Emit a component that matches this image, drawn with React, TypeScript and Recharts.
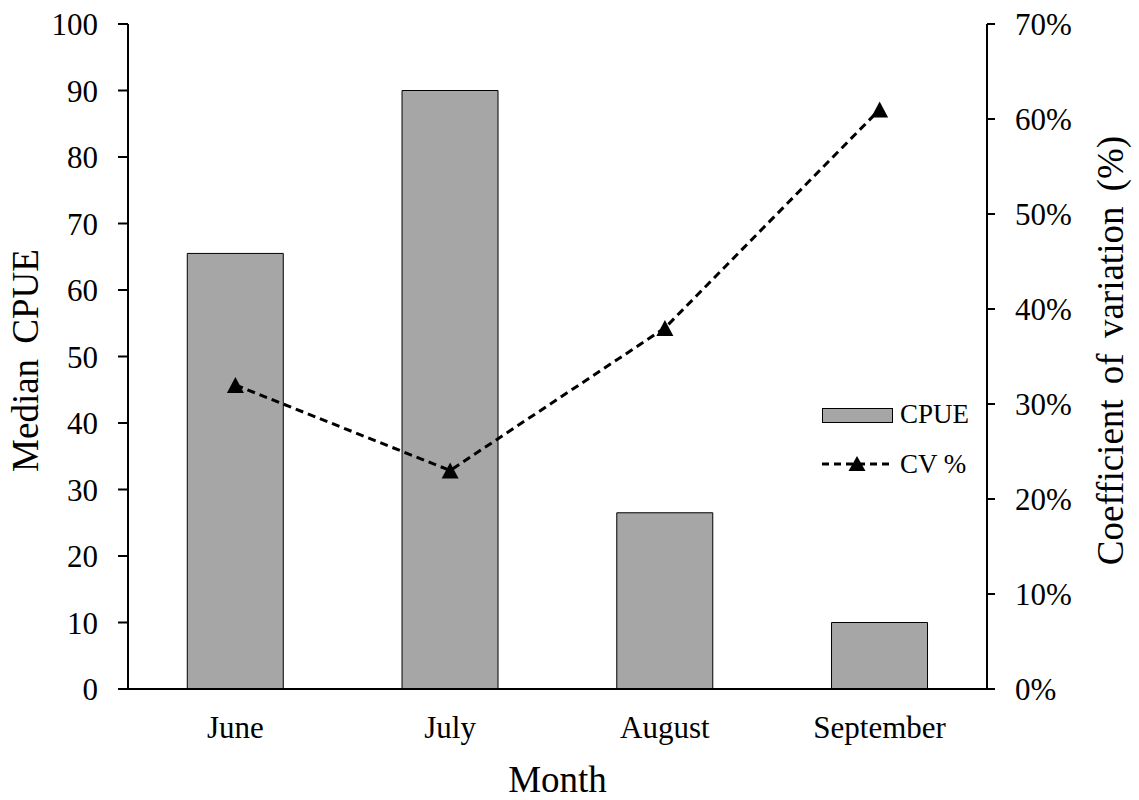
import {
  Bar,
  ComposedChart,
  Legend,
  Line,
  XAxis,
  YAxis,
} from "recharts";

const months = ["June", "July", "August", "September"];
const cpue = [65.5, 90, 26.5, 10];
const cvPct = [32, 23, 38, 61];
const cpueTicks = [0, 10, 20, 30, 40, 50, 60, 70, 80, 90, 100];
const cvTicks = [0, 10, 20, 30, 40, 50, 60, 70];

const data = months.map((m, i) => ({ month: m, cpue: cpue[i], cv: cvPct[i] }));

const FONT = '"Liberation Serif", "Times New Roman", serif';
const INK = "#000";

function Triangle(props: any) {
  const { cx, cy, index } = props;
  if (cx == null || cy == null) return null;
  return (
    <polygon
      key={`tri-${index}`}
      points={`${cx},${cy - 8} ${cx - 8.5},${cy + 8} ${cx + 8.5},${cy + 8}`}
      fill={INK}
    />
  );
}

function AxisTitle(props: any) {
  const { viewBox, value, baseX } = props;
  if (!viewBox) return null;
  const x = viewBox.x + baseX;
  const y = viewBox.y + viewBox.height / 2 + (props.dy || 0);
  return (
    <text
      x={x}
      y={y}
      transform={`rotate(-90 ${x} ${y})`}
      textAnchor="middle"
      fontFamily={FONT}
      fontSize={37}
      fill={INK}
      style={{ wordSpacing: 6 }}
    >
      {value}
    </text>
  );
}

function LegendBox() {
  return (
    <svg width={170} height={90} style={{ display: "block" }}>
      <rect x={0.5} y={10.5} width={70} height={14} fill="#a6a6a6" stroke={INK} strokeWidth={1} />
      <text x={78} y={25} fontFamily={FONT} fontSize={27} fill={INK}>
        CPUE
      </text>
      <line x1={0} y1={66} x2={70} y2={66} stroke={INK} strokeWidth={3} strokeDasharray="7 5" />
      <polygon points="35,58 26.5,73 43.5,73" fill={INK} />
      <text x={78} y={75} fontFamily={FONT} fontSize={27} fill={INK}>
        CV %
      </text>
    </svg>
  );
}

export default function App() {
  return (
    <div style={{ position: "absolute", left: 0, top: 0, background: "#fff" }}>
      <ComposedChart
        width={1139}
        height={800}
        data={data}
        margin={{ top: 24, right: 0, bottom: 0, left: 0 }}
        barCategoryGap="27.6%"
      >
        <XAxis
          dataKey="month"
          height={111}
          axisLine={{ stroke: INK, strokeWidth: 2 }}
          tickLine={false}
          tickSize={0}
          tickMargin={27}
          tick={{ fill: INK, fontSize: 31, fontFamily: FONT }}
          label={{
            value: "Month",
            position: "insideBottom",
            offset: 8,
            fill: INK,
            fontSize: 37,
            fontFamily: FONT,
          }}
        />
        <YAxis
          yAxisId="left"
          width={128}
          domain={[0, 100]}
          ticks={cpueTicks}
          interval={0}
          axisLine={{ stroke: INK, strokeWidth: 2 }}
          tickLine={{ stroke: INK, strokeWidth: 2 }}
          tickSize={10}
          tickMargin={20}
          tick={{ fill: INK, fontSize: 31, fontFamily: FONT }}
          label={<AxisTitle value="Median CPUE" baseX={38} dy={4} />}
        />
        <YAxis
          yAxisId="right"
          orientation="right"
          width={152}
          domain={[0, 70]}
          ticks={cvTicks}
          interval={0}
          tickFormatter={(v: number) => `${v}%`}
          axisLine={{ stroke: INK, strokeWidth: 2 }}
          tickLine={{ stroke: INK, strokeWidth: 2 }}
          tickSize={8}
          tickMargin={20}
          tick={{ fill: INK, fontSize: 31, fontFamily: FONT }}
          label={<AxisTitle value="Coefficient of variation (%)" baseX={136} dy={-6} />}
        />
        <Legend
          layout="horizontal"
          verticalAlign="middle"
          align="center"
          content={() => <LegendBox />}
          wrapperStyle={{ left: 822, top: 398, width: 170, height: 90 }}
        />
        <Bar
          yAxisId="left"
          dataKey="cpue"
          name="CPUE"
          fill="#a6a6a6"
          stroke={INK}
          strokeWidth={1}
          isAnimationActive={false}
        />
        <Line
          yAxisId="right"
          dataKey="cv"
          name="CV %"
          type="linear"
          stroke={INK}
          strokeWidth={3}
          strokeDasharray="8 5"
          dot={(p: any) => <Triangle {...p} />}
          activeDot={false}
          isAnimationActive={false}
        />
      </ComposedChart>
    </div>
  );
}
